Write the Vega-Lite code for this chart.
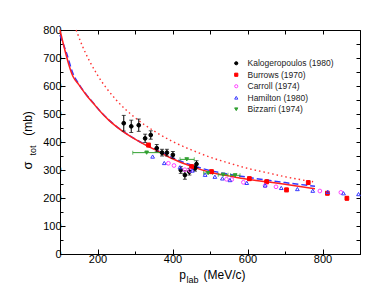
{
  "$schema": "https://vega.github.io/schema/vega-lite/v6.json",
  "width": 300,
  "height": 224,
  "autosize": "none",
  "padding": {"left": 60, "top": 30, "right": 28, "bottom": 46},
  "background": "white",
  "config": {
    "view": {"stroke": "black", "strokeWidth": 1},
    "font": "Liberation Sans",
    "axis": {"grid": false, "domainColor": "black", "tickColor": "black", "labelColor": "black", "titleColor": "black", "titleFontWeight": "normal", "labelFont": "Liberation Sans", "titleFont": "Liberation Sans"},
    "legend": {"labelFont": "Liberation Sans"}
  },
  "datasets": {
    "dot": [
      {"p": 143, "s": 800}, {"p": 160, "s": 742}, {"p": 180, "s": 686}, {"p": 200, "s": 639},
      {"p": 250, "s": 550}, {"p": 300, "s": 487}, {"p": 350, "s": 440}, {"p": 400, "s": 402},
      {"p": 450, "s": 372}, {"p": 500, "s": 346}, {"p": 550, "s": 325}, {"p": 600, "s": 306},
      {"p": 650, "s": 291}, {"p": 700, "s": 276}, {"p": 775, "s": 258}
    ],
    "red": [
      {"p": 100, "s": 800}, {"p": 135, "s": 633}, {"p": 150, "s": 605}, {"p": 170, "s": 568},
      {"p": 189, "s": 538}, {"p": 210, "s": 505}, {"p": 230, "s": 478}, {"p": 260, "s": 445},
      {"p": 300, "s": 410}, {"p": 331, "s": 387}, {"p": 360, "s": 368}, {"p": 400, "s": 340},
      {"p": 450, "s": 313}, {"p": 500, "s": 292}, {"p": 550, "s": 279}, {"p": 600, "s": 267},
      {"p": 650, "s": 258}, {"p": 700, "s": 249}, {"p": 780, "s": 233}
    ],
    "blue": [
      {"p": 100, "s": 782}, {"p": 118, "s": 715}, {"p": 133, "s": 650}, {"p": 150, "s": 607},
      {"p": 170, "s": 570}, {"p": 189, "s": 539}, {"p": 210, "s": 506}, {"p": 230, "s": 479},
      {"p": 260, "s": 446}, {"p": 300, "s": 411}, {"p": 331, "s": 388}, {"p": 360, "s": 370},
      {"p": 400, "s": 343}, {"p": 450, "s": 318}, {"p": 500, "s": 298}, {"p": 550, "s": 285},
      {"p": 600, "s": 274}, {"p": 650, "s": 264}, {"p": 700, "s": 255}, {"p": 780, "s": 242}
    ],
    "pts": [
      {"series": "Kalogeropoulos (1980)", "p": 270, "s": 467, "slo": 439, "shi": 495},
      {"series": "Kalogeropoulos (1980)", "p": 290, "s": 456, "slo": 434, "shi": 478},
      {"series": "Kalogeropoulos (1980)", "p": 310, "s": 460, "slo": 438, "shi": 482},
      {"series": "Kalogeropoulos (1980)", "p": 327, "s": 413, "slo": 398, "shi": 428},
      {"series": "Kalogeropoulos (1980)", "p": 342, "s": 425, "slo": 410, "shi": 440},
      {"series": "Kalogeropoulos (1980)", "p": 358, "s": 378, "slo": 365, "shi": 391},
      {"series": "Kalogeropoulos (1980)", "p": 372, "s": 362, "slo": 350, "shi": 374},
      {"series": "Kalogeropoulos (1980)", "p": 385, "s": 362, "slo": 350, "shi": 374},
      {"series": "Kalogeropoulos (1980)", "p": 401, "s": 354, "slo": 342, "shi": 366},
      {"series": "Kalogeropoulos (1980)", "p": 422, "s": 300, "slo": 288, "shi": 312},
      {"series": "Kalogeropoulos (1980)", "p": 433, "s": 282, "slo": 267, "shi": 297},
      {"series": "Kalogeropoulos (1980)", "p": 445, "s": 294, "slo": 282, "shi": 306},
      {"series": "Kalogeropoulos (1980)", "p": 460, "s": 306, "slo": 296, "shi": 316},
      {"series": "Kalogeropoulos (1980)", "p": 464, "s": 321, "slo": 309, "shi": 333},
      {"series": "Burrows (1970)", "p": 336, "s": 389, "slo": 382, "shi": 396},
      {"series": "Burrows (1970)", "p": 451, "s": 312, "slo": 305, "shi": 319},
      {"series": "Burrows (1970)", "p": 504, "s": 294, "slo": 287, "shi": 301},
      {"series": "Burrows (1970)", "p": 605, "s": 269, "slo": 262, "shi": 276},
      {"series": "Burrows (1970)", "p": 651, "s": 258, "slo": 251, "shi": 265},
      {"series": "Burrows (1970)", "p": 704, "s": 229, "slo": 222, "shi": 236},
      {"series": "Burrows (1970)", "p": 762, "s": 255, "slo": 248, "shi": 262},
      {"series": "Burrows (1970)", "p": 813, "s": 217, "slo": 210, "shi": 224},
      {"series": "Burrows (1970)", "p": 865, "s": 199, "slo": 192, "shi": 206},
      {"series": "Carroll (1974)", "p": 389, "s": 324},
      {"series": "Carroll (1974)", "p": 404, "s": 316},
      {"series": "Carroll (1974)", "p": 433, "s": 301},
      {"series": "Carroll (1974)", "p": 447, "s": 298},
      {"series": "Carroll (1974)", "p": 544, "s": 267},
      {"series": "Carroll (1974)", "p": 558, "s": 266},
      {"series": "Carroll (1974)", "p": 589, "s": 256},
      {"series": "Carroll (1974)", "p": 647, "s": 244},
      {"series": "Carroll (1974)", "p": 676, "s": 240},
      {"series": "Carroll (1974)", "p": 793, "s": 225},
      {"series": "Carroll (1974)", "p": 849, "s": 220},
      {"series": "Hamilton (1980)", "p": 347, "s": 348},
      {"series": "Hamilton (1980)", "p": 378, "s": 325},
      {"series": "Hamilton (1980)", "p": 420, "s": 310},
      {"series": "Hamilton (1980)", "p": 453, "s": 298},
      {"series": "Hamilton (1980)", "p": 487, "s": 283},
      {"series": "Hamilton (1980)", "p": 513, "s": 276},
      {"series": "Hamilton (1980)", "p": 533, "s": 270},
      {"series": "Hamilton (1980)", "p": 553, "s": 264},
      {"series": "Hamilton (1980)", "p": 598, "s": 254},
      {"series": "Hamilton (1980)", "p": 647, "s": 245},
      {"series": "Hamilton (1980)", "p": 690, "s": 236},
      {"series": "Hamilton (1980)", "p": 733, "s": 232},
      {"series": "Hamilton (1980)", "p": 774, "s": 226},
      {"series": "Hamilton (1980)", "p": 814, "s": 222},
      {"series": "Hamilton (1980)", "p": 856, "s": 217},
      {"series": "Hamilton (1980)", "p": 896, "s": 214},
      {"series": "Bizzarri (1974)", "p": 331, "s": 362, "plo": 294, "phi": 375},
      {"series": "Bizzarri (1974)", "p": 438, "s": 338, "plo": 420, "phi": 458},
      {"series": "Bizzarri (1974)", "p": 495, "s": 289, "plo": 483, "phi": 507},
      {"series": "Bizzarri (1974)", "p": 535, "s": 283, "plo": 522, "phi": 548},
      {"series": "Bizzarri (1974)", "p": 567, "s": 281, "plo": 555, "phi": 580}
    ]
  },
  "resolve": {"axis": {"x": "independent", "y": "independent"}},
  "layer": [
    {
      "data": {"name": "dot"},
      "mark": {"type": "line", "color": "#ff3030", "strokeWidth": 1.4, "strokeDash": [1.5, 3], "interpolate": "monotone"},
      "encoding": {
        "x": {"field": "p", "type": "quantitative", "scale": {"domain": [100, 900], "nice": false, "zero": false},
          "axis": {"orient": "bottom", "values": [200, 400, 600, 800], "tickSize": -5, "labelFontSize": 11, "labelPadding": 4,
            "title": "p", "titleFontSize": 12, "titleX": 122, "titleY": 15, "titleBaseline": "top", "titleAlign": "center"}},
        "y": {"field": "s", "type": "quantitative", "scale": {"domain": [0, 800], "nice": false},
          "axis": {"orient": "left", "values": [0, 100, 200, 300, 400, 500, 600, 700, 800], "tickSize": -5, "labelFontSize": 11, "labelPadding": 4,
            "title": "σ", "titleFontSize": 13, "titleX": -26, "titleY": 135, "titleAngle": -90, "titleBaseline": "bottom", "titleAlign": "center"}}
      }
    },
    {
      "data": {"name": "blue"},
      "mark": {"type": "line", "color": "#3535ff", "strokeWidth": 1.5, "strokeDash": [6, 3], "interpolate": "monotone"},
      "encoding": {
        "x": {"field": "p", "type": "quantitative", "scale": {"domain": [100, 900], "nice": false, "zero": false},
          "axis": {"orient": "bottom", "values": [100, 200, 300, 400, 500, 600, 700, 800, 900], "tickSize": -3, "labels": false, "domain": false,
            "title": "(MeV/c)", "titleFontSize": 12, "titleX": 164, "titleY": 15, "titleBaseline": "top", "titleAlign": "center"}},
        "y": {"field": "s", "type": "quantitative", "scale": {"domain": [0, 800], "nice": false},
          "axis": {"orient": "left", "values": [0, 50, 100, 150, 200, 250, 300, 350, 400, 450, 500, 550, 600, 650, 700, 750, 800], "tickSize": -3, "labels": false, "domain": false,
            "title": "(mb)", "titleFontSize": 12, "titleX": -26, "titleY": 93, "titleAngle": -90, "titleBaseline": "bottom", "titleAlign": "center"}}
      }
    },
    {
      "data": {"name": "red"},
      "mark": {"type": "line", "color": "#ff2020", "strokeWidth": 1.5, "interpolate": "monotone"},
      "encoding": {
        "x": {"field": "p", "type": "quantitative", "scale": {"domain": [100, 900], "nice": false, "zero": false},
          "axis": {"orient": "top", "values": [200, 300, 400, 500, 600, 700, 800], "tickSize": -4, "labels": false, "title": null}},
        "y": {"field": "s", "type": "quantitative", "scale": {"domain": [0, 800], "nice": false},
          "axis": {"orient": "right", "values": [50, 100, 150, 200, 250, 300, 350, 400, 450, 500, 550, 600, 650, 700, 750], "tickSize": -4, "labels": false, "title": null}}
      }
    },
    {
      "data": {"name": "pts"},
      "mark": {"type": "rule", "strokeWidth": 1},
      "encoding": {
        "x": {"field": "p", "type": "quantitative", "scale": {"domain": [100, 900], "nice": false, "zero": false},
          "axis": {"orient": "bottom", "labels": false, "ticks": false, "domain": false, "title": "lab", "titleFontSize": 9, "titleX": 132, "titleY": 21, "titleBaseline": "top", "titleAlign": "center"}},
        "y": {"field": "slo", "type": "quantitative", "scale": {"domain": [0, 800], "nice": false},
          "axis": {"orient": "left", "labels": false, "ticks": false, "domain": false, "title": "tot", "titleFontSize": 9, "titleX": -23, "titleY": 120, "titleAngle": -90, "titleBaseline": "bottom", "titleAlign": "center"}},
        "y2": {"field": "shi"},
        "color": {"field": "series", "type": "nominal", "legend": null,
          "scale": {"domain": ["Bizzarri (1974)", "Burrows (1970)", "Carroll (1974)", "Hamilton (1980)", "Kalogeropoulos (1980)"], "range": ["#30a030", "#ff0000", "#ff40ff", "#3a3aff", "#000000"]}}
      }
    },
    {
      "data": {"name": "pts"},
      "mark": {"type": "tick", "orient": "horizontal", "size": 4, "thickness": 1},
      "encoding": {
        "x": {"field": "p", "type": "quantitative", "axis": null},
        "y": {"field": "slo", "type": "quantitative", "axis": null},
        "color": {"field": "series", "type": "nominal", "legend": null}
      }
    },
    {
      "data": {"name": "pts"},
      "mark": {"type": "tick", "orient": "horizontal", "size": 4, "thickness": 1},
      "encoding": {
        "x": {"field": "p", "type": "quantitative", "axis": null},
        "y": {"field": "shi", "type": "quantitative", "axis": null},
        "color": {"field": "series", "type": "nominal", "legend": null}
      }
    },
    {
      "data": {"name": "pts"},
      "mark": {"type": "rule", "strokeWidth": 1},
      "encoding": {
        "x": {"field": "plo", "type": "quantitative", "axis": null},
        "x2": {"field": "phi"},
        "y": {"field": "s", "type": "quantitative", "axis": null},
        "color": {"field": "series", "type": "nominal", "legend": null}
      }
    },
    {
      "data": {"name": "pts"},
      "mark": {"type": "tick", "orient": "vertical", "size": 4, "thickness": 1},
      "encoding": {
        "x": {"field": "plo", "type": "quantitative", "axis": null},
        "y": {"field": "s", "type": "quantitative", "axis": null},
        "color": {"field": "series", "type": "nominal", "legend": null}
      }
    },
    {
      "data": {"name": "pts"},
      "mark": {"type": "tick", "orient": "vertical", "size": 4, "thickness": 1},
      "encoding": {
        "x": {"field": "phi", "type": "quantitative", "axis": null},
        "y": {"field": "s", "type": "quantitative", "axis": null},
        "color": {"field": "series", "type": "nominal", "legend": null}
      }
    },
    {
      "data": {"name": "pts"},
      "mark": {"type": "point", "size": 14, "strokeWidth": 1, "opacity": 1},
      "encoding": {
        "x": {"field": "p", "type": "quantitative", "axis": null},
        "y": {"field": "s", "type": "quantitative", "axis": null},
        "shape": {"field": "series", "type": "nominal",
          "scale": {"domain": ["Kalogeropoulos (1980)", "Burrows (1970)", "Carroll (1974)", "Hamilton (1980)", "Bizzarri (1974)"], "range": ["circle", "square", "circle", "triangle-up", "triangle-down"]},
          "legend": {"orient": "none", "legendX": 172, "legendY": 29, "title": null, "labelFontSize": 8.5, "symbolSize": 10, "symbolStrokeWidth": 1, "rowPadding": 2.5, "labelOffset": 7, "padding": 0, "labelColor": "#222222"}},
        "stroke": {"field": "series", "type": "nominal",
          "scale": {"domain": ["Kalogeropoulos (1980)", "Burrows (1970)", "Carroll (1974)", "Hamilton (1980)", "Bizzarri (1974)"], "range": ["#000000", "#ff0000", "#ff40ff", "#3a3aff", "#30a030"]},
          "legend": {"orient": "none", "legendX": 172, "legendY": 29, "title": null, "labelFontSize": 8.5, "symbolSize": 10, "symbolStrokeWidth": 1, "rowPadding": 2.5, "labelOffset": 7, "padding": 0, "labelColor": "#222222"}},
        "fill": {"field": "series", "type": "nominal",
          "scale": {"domain": ["Kalogeropoulos (1980)", "Burrows (1970)", "Carroll (1974)", "Hamilton (1980)", "Bizzarri (1974)"], "range": ["#000000", "#ff0000", "transparent", "transparent", "#30a030"]},
          "legend": {"orient": "none", "legendX": 172, "legendY": 29, "title": null, "labelFontSize": 8.5, "symbolSize": 10, "symbolStrokeWidth": 1, "rowPadding": 2.5, "labelOffset": 7, "padding": 0, "labelColor": "#222222"}}
      }
    }
  ]
}
